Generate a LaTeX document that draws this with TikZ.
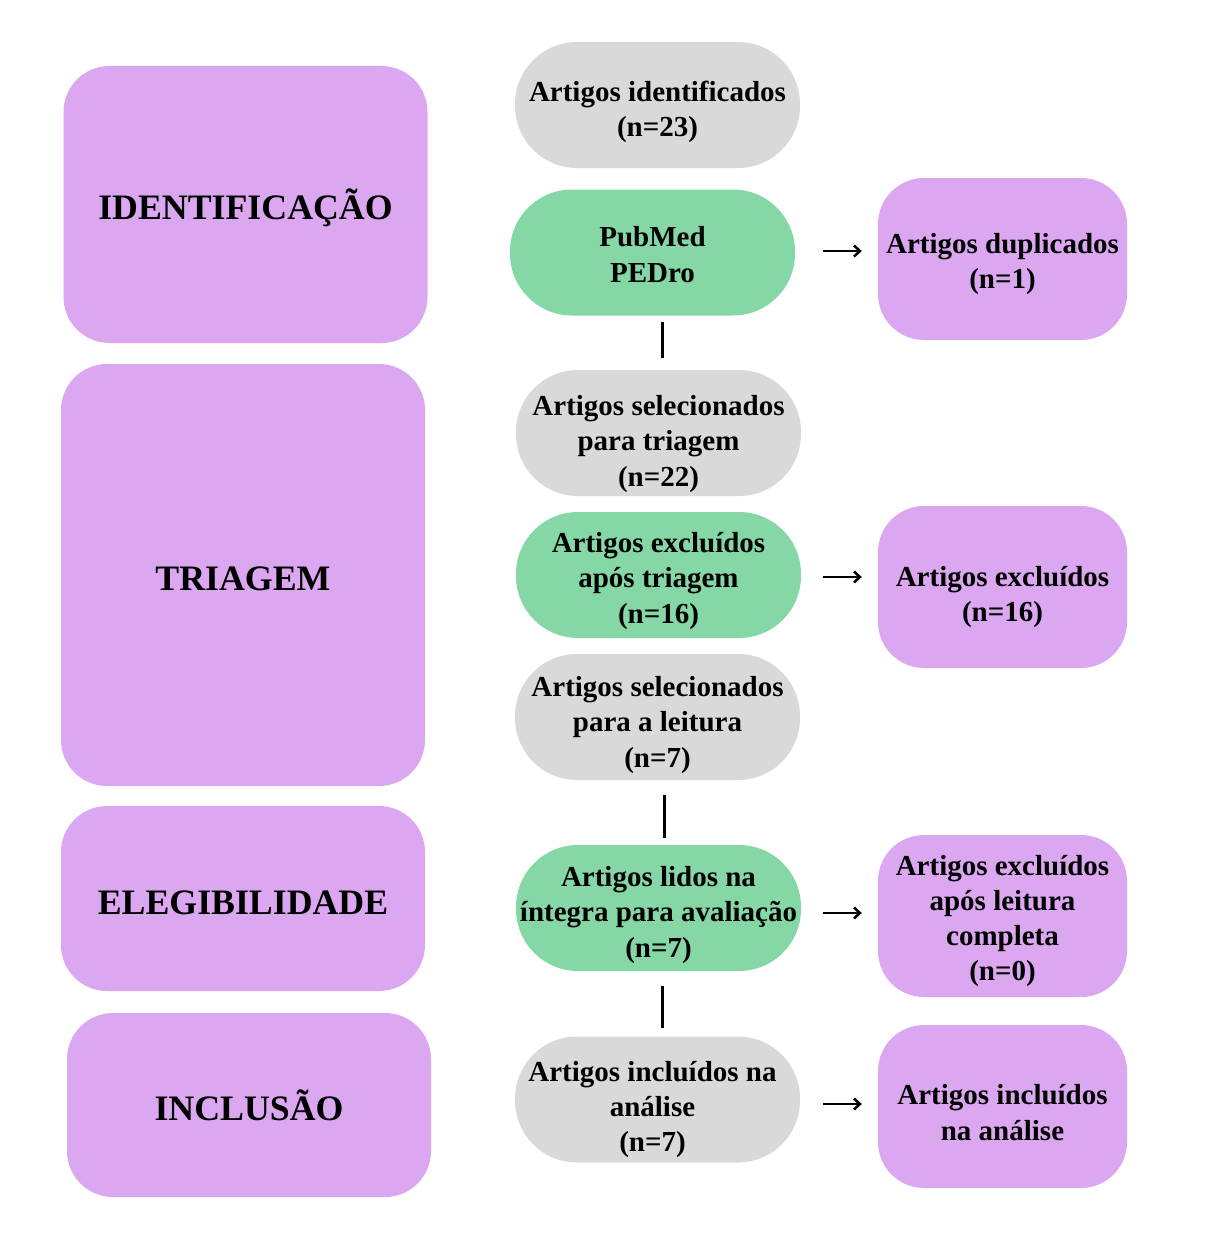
\documentclass[tikz,border=0pt]{standalone}
\usepackage{fontspec}
\setmainfont{Liberation Serif}
\usetikzlibrary{arrows.meta}
\definecolor{lilac}{RGB}{219,167,241}
\definecolor{mint}{RGB}{134,215,166}
\definecolor{pale}{RGB}{217,217,217}
\begin{document}
\begin{tikzpicture}[x=1pt,y=-1pt,
  phase/.style={rectangle,fill=lilac,rounded corners=46pt,minimum width=364pt,inner sep=0pt},
  bigtxt/.style={font=\fontsize{35.8}{42}\selectfont\bfseries,inner sep=0pt},
  txt/.style={align=center,font=\fontsize{29}{35.3}\selectfont\bfseries,inner sep=0pt},
  pill/.style={rectangle,rounded corners=62pt,minimum width=285pt,minimum height=126pt,inner sep=0pt},
  graypill/.style={pill,fill=pale},
  greenpill/.style={pill,fill=mint},
  sidebox/.style={rectangle,fill=lilac,rounded corners=46pt,minimum width=249pt,minimum height=162pt,inner sep=0pt},
  link/.style={line width=3pt,black},
  flow/.style={line width=2.5pt,black,-{Straight Barb[length=6pt,width=11pt,line width=2.5pt]}}
]
\useasboundingbox (0,0) rectangle (1215,1236);

% phases
\node[phase,minimum height=277pt,label={[bigtxt,yshift=-3pt]center:IDENTIFICAÇÃO}] (idf) at (245.5,204.5) {};
\node[phase,minimum height=422pt,label={[bigtxt,yshift=-4pt]center:TRIAGEM}] (tri) at (243,575) {};
\node[phase,minimum height=185pt,label={[bigtxt,yshift=-4pt]center:ELEGIBILIDADE}] (ele) at (243,898.5) {};
\node[phase,minimum height=184pt,label={[bigtxt,yshift=0pt]center:INCLUSÃO}] (inc) at (249,1105) {};

% centre column
\node[graypill,label={[txt,yshift=-7pt]center:{Artigos identificados\\(n=23)}}] (a1) at (657.5,105) {};
\node[greenpill,label={[txt,yshift=-2pt]center:{PubMed\\PEDro}}] (a2) at (652.5,252.5) {};
\node[graypill,label={[txt,yshift=-11pt]center:{Artigos selecionados\\para triagem\\(n=22)}}] (a3) at (658.5,433) {};
\node[greenpill,label={[txt,yshift=-6pt]center:{Artigos excluídos\\após triagem\\(n=16)}}] (a4) at (658.5,575) {};
\node[graypill,label={[txt,yshift=-8pt]center:{Artigos selecionados\\para a leitura\\(n=7)}}] (a5) at (657.5,717) {};
\node[greenpill,label={[txt,yshift=-7pt]center:{Artigos lidos na\\íntegra para avaliação\\(n=7)}}] (a6) at (658.5,908) {};
\node[graypill,label={[txt,yshift=-10pt,xshift=-5pt]center:{Artigos incluídos na\\análise\\(n=7)}}] (a7) at (657.5,1099.5) {};

% right column
\node[sidebox,label={[txt,yshift=-5pt]center:{Artigos duplicados\\(n=1)}}] (r1) at (1002.5,259) {};
\node[sidebox,label={[txt,yshift=-10pt]center:{Artigos excluídos\\(n=16)}}] (r2) at (1002.5,587) {};
\node[sidebox,label={[txt,yshift=-5pt]center:{Artigos excluídos\\após leitura\\completa\\(n=0)}}] (r3) at (1002.5,916) {};
\node[sidebox,minimum height=163pt,label={[txt,yshift=-6pt]center:{Artigos incluídos\\na análise}}] (r4) at (1002.5,1106.5) {};

% vertical links
\draw[link,shorten <=6pt,shorten >=12pt] ([xshift=9.5pt]a2.south) -- ([xshift=9.5pt]a2.south |- a3.north);
\draw[link,shorten <=15pt,shorten >=7pt] ([xshift=6.5pt]a5.south) -- ([xshift=6.5pt]a5.south |- a6.north);
\draw[link,shorten <=15pt,shorten >=8pt] ([xshift=3.5pt]a6.south) -- ([xshift=3.5pt]a6.south |- a7.north);

% arrows
\draw[flow,shorten <=28pt,shorten >=16pt] ([yshift=1.5pt]a2.east) -- ([yshift=1.5pt]a2.east -| r1.west);
\draw[flow,shorten <=22pt,shorten >=16pt] ([yshift=-2pt]a4.east) -- ([yshift=-2pt]a4.east -| r2.west);
\draw[flow,shorten <=22pt,shorten >=16pt] ([yshift=-5pt]a6.east) -- ([yshift=-5pt]a6.east -| r3.west);
\draw[flow,shorten <=23pt,shorten >=16pt] ([yshift=-4.5pt]a7.east) -- ([yshift=-4.5pt]a7.east -| r4.west);
\end{tikzpicture}
\end{document}
